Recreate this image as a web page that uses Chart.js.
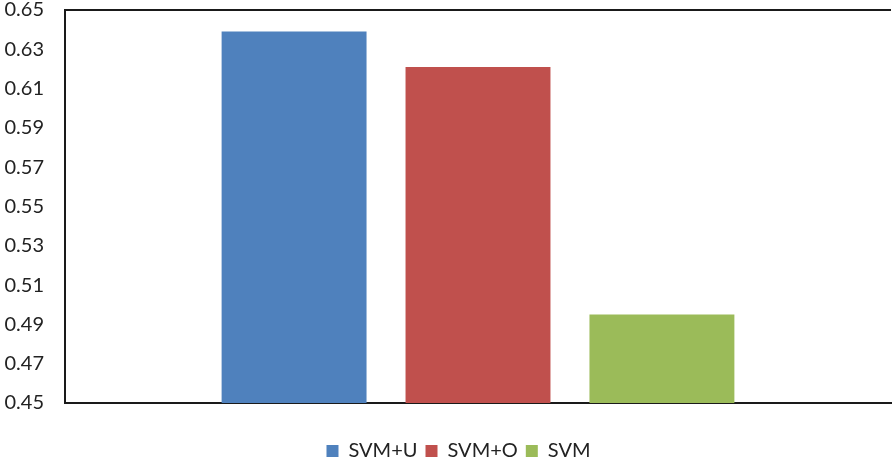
<!DOCTYPE html>
<html>
<head>
<meta charset="utf-8">
<script src="https://cdn.jsdelivr.net/npm/chart.js@4/dist/chart.umd.min.js"></script>
<style>
  html, body { margin: 0; padding: 0; background: #fff; }
  #wrap { width: 892px; height: 463px; position: relative; }
</style>
</head>
<body>
<div id="wrap"><canvas id="c"></canvas></div>
<script>
// Accuracy of each classifier variant
const categories = [''];
const seriesNames = ['SVM+U', 'SVM+O', 'SVM'];
const seriesValues = [0.639, 0.621, 0.495];
const seriesColors = ['#4F81BD', '#C0504D', '#9BBB59'];
const yMin = 0.45, yMax = 0.65, yStep = 0.02;

const axisColor = '#1a1a1a';
const textColor = '#222';
const fontFamily = 'Lato, "Open Sans", sans-serif';

const datasets = seriesNames.map((name, i) => ({
  label: name,
  data: [seriesValues[i]],
  backgroundColor: seriesColors[i],
  borderWidth: 0,
  categoryPercentage: 0.668,
  barPercentage: 0.788
}));

// Closes the plot frame with a line along the top of the chart area,
// and nudges the legend a little to the right of centre
const frameAndLegend = {
  id: 'frameAndLegend',
  afterLayout(chart) {
    const lg = chart.legend;
    if (lg) { lg.left += 13; lg.right += 13; }
  },
  afterDraw(chart) {
    const { ctx, chartArea } = chart;
    ctx.save();
    ctx.strokeStyle = axisColor;
    ctx.lineWidth = 2;
    ctx.beginPath();
    ctx.moveTo(chartArea.left - 1, chartArea.top);
    ctx.lineTo(chartArea.right, chartArea.top);
    ctx.stroke();
    ctx.restore();
  }
};

new Chart(document.getElementById('c'), {
  type: 'bar',
  data: { labels: categories, datasets },
  plugins: [frameAndLegend],
  options: {
    responsive: true,
    maintainAspectRatio: false,
    animation: false,
    layout: { padding: { top: 0, right: 1, bottom: -8, left: 0 } },
    plugins: {
      tooltip: { enabled: false },
      legend: {
        position: 'bottom',
        labels: {
          boxWidth: 12,
          boxHeight: 12,
          padding: 8,
          color: textColor,
          font: { family: fontFamily, size: 20 }
        }
      }
    },
    scales: {
      y: {
        min: yMin,
        max: yMax,
        afterFit(scale) { scale.width = 65; },
        ticks: {
          stepSize: yStep,
          padding: 0,
          color: textColor,
          font: { family: fontFamily, size: 20, lineHeight: 1.0 },
          callback: v => Number(v).toFixed(2)
        },
        grid: {
          display: true,
          drawOnChartArea: false,
          drawTicks: true,
          tickLength: 21,
          tickColor: 'rgba(0,0,0,0)'
        },
        border: { display: true, color: axisColor, width: 2 }
      },
      x: {
        ticks: { display: false },
        grid: { display: false, drawTicks: false },
        border: { display: true, color: axisColor, width: 2 },
        afterFit(scale) { scale.height = 30; }
      }
    }
  }
});
</script>
</body>
</html>
